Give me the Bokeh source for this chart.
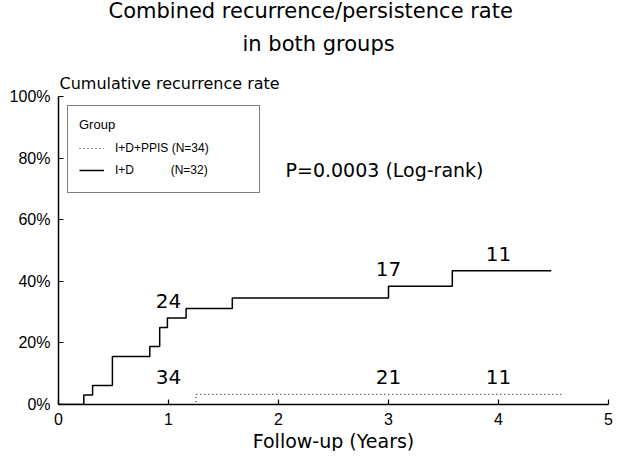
from bokeh.plotting import figure
from bokeh.models import Range1d, Label, FixedTicker, Legend, LegendItem, ColumnDataSource, Title
from bokeh.embed import file_html
from bokeh.resources import INLINE
from bokeh.core.properties import value

# ---- data ----
ppis_t = [0.0, 1.25, 4.6]
ppis_y = [0.0, 3.3, 3.3]
id_t = [0.0, 0.23, 0.31, 0.49, 0.83, 0.92, 0.99, 1.16, 1.58, 3.0, 3.58, 4.48]
id_y = [0.0, 3.1, 6.2, 15.6, 18.8, 25.0, 28.1, 31.2, 34.6, 38.4, 43.4, 43.4]
risk_t = [1.0, 3.0, 4.0]
risk_id = ["24", "17", "11"]
risk_ppis = ["34", "21", "11"]
x_ticks = [0, 1, 2, 3, 4, 5]
y_ticks = [0, 20, 40, 60, 80, 100]
y_tick_labels = ["0%", "20%", "40%", "60%", "80%", "100%"]
title_lines = ["Combined recurrence/persistence rate", "in both groups"]
y_title = "Cumulative recurrence rate"
x_title = "Follow-up (Years)"
p_text = "P=0.0003 (Log-rank)"
legend_title = "Group"
legend_labels = ["I+D+PPIS (N=34)", "I+D           (N=32)"]

FONT = "Liberation Sans"
WIDE = "DejaVu Sans"


def step_at(ts, ys, t):
    v = ys[0]
    for ti, yi in zip(ts, ys):
        if ti <= t:
            v = yi
    return v


p = figure(width=614, height=451, output_backend="svg", toolbar_location=None,
           x_range=Range1d(0, 5), y_range=Range1d(0, 100),
           title=title_lines[0],
           min_border_left=58, min_border_right=6, min_border_top=95, min_border_bottom=46)
p.outline_line_color = None
p.grid.grid_line_color = None
p.background_fill_color = "white"
p.border_fill_color = "white"

# outermost title line
p.title.align = "left"
p.title.offset = 50
p.title.standoff = -8
p.title.text_font = WIDE
p.title.text_font_size = "21px"
p.title.text_font_style = "normal"
p.title.text_color = "black"

# closest to the frame: the y-axis caption, then the second title line
t_cum = Title(text=y_title, align="left", offset=1, standoff=8,
              text_font=WIDE, text_font_size="16px", text_font_style="normal", text_color="black")
p.add_layout(t_cum, "above")
t_both = Title(text=title_lines[1], align="left", offset=184, standoff=23,
               text_font=WIDE, text_font_size="21px", text_font_style="normal", text_color="black")
p.add_layout(t_both, "above")

for ax in (p.xaxis[0], p.yaxis[0]):
    ax.axis_line_width = 1.5
    ax.axis_line_color = "black"
    ax.major_tick_in = 5
    ax.major_tick_out = 0
    ax.minor_tick_line_color = None
    ax.major_tick_line_width = 1.2
    ax.major_label_text_font = FONT
    ax.major_label_text_color = "black"
    ax.major_label_text_font_size = "16px"
    ax.major_label_standoff = 8

p.xaxis.ticker = FixedTicker(ticks=x_ticks)
p.yaxis.ticker = FixedTicker(ticks=y_ticks)
p.yaxis.major_label_overrides = {t: l for t, l in zip(y_ticks, y_tick_labels)}

xt = Title(text=x_title, align="center", standoff=0,
           text_font=WIDE, text_font_size="19px", text_font_style="normal", text_color="black")
p.add_layout(xt, "below")

# step curves
src_ppis = ColumnDataSource(dict(t=ppis_t, y=ppis_y))
src_id = ColumnDataSource(dict(t=id_t, y=id_y))
r_ppis = p.step("t", "y", source=src_ppis, mode="after", line_color="#222222",
                line_width=1.2, line_dash="1 3")
r_id = p.step("t", "y", source=src_id, mode="after", line_color="black", line_width=1.5)

# numbers at risk, written just above each curve
lab_id_y = [step_at(id_t, id_y, t) for t in risk_t]
lab_pp_y = [step_at(ppis_t, ppis_y, t + 0.25) for t in risk_t]
p.text(x=risk_t + risk_t, y=lab_id_y + lab_pp_y, text=risk_id + risk_ppis,
       text_font=value(WIDE), text_font_size="20px", text_align="center",
       text_baseline="bottom", y_offset=-10, text_color="black")

# legend
legend = Legend(items=[LegendItem(label=legend_labels[0], renderers=[r_ppis]),
                       LegendItem(label=legend_labels[1], renderers=[r_id])],
                location=(9, 211), title=legend_title,
                title_text_font=FONT, title_text_font_size="13px", title_text_font_style="normal",
                title_text_color="black", title_standoff=5,
                label_text_font=FONT, label_text_font_size="12px", label_text_color="black",
                border_line_color="black", border_line_width=1.5,
                glyph_width=25, label_standoff=11, padding=11, spacing=0,
                label_width=133, label_height=22, glyph_height=22, margin=0)
p.add_layout(legend, "center")

p.add_layout(Label(x=227, y=235, x_units="screen", y_units="screen", text=p_text,
                   text_font=WIDE, text_font_size="19px", text_align="left",
                   text_baseline="middle", text_color="black"))

open("out.html", "w").write(file_html(p, INLINE))
